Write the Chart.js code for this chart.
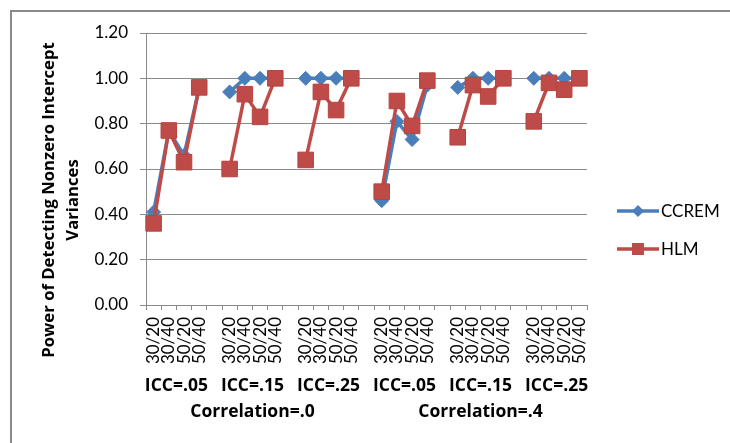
<!DOCTYPE html>
<html>
<head>
<meta charset="utf-8">
<script src="https://cdn.jsdelivr.net/npm/chart.js@4/dist/chart.umd.min.js"></script>
<style>
  html, body { margin: 0; padding: 0; background: #fff; }
  #wrap { width: 730px; height: 443px; position: relative; }
</style>
</head>
<body>
<div id="wrap"><canvas id="c" width="730" height="443"></canvas></div>
<script>
// ---- data ----
const sizeLabels = ['30/20', '30/40', '50/20', '50/40'];
const iccGroups = ['ICC=.05', 'ICC=.15', 'ICC=.25', 'ICC=.05', 'ICC=.15', 'ICC=.25'];
const correlations = ['Correlation=.0', 'Correlation=.4'];
const ccremValues = [
  0.41, 0.77, 0.66, 0.96,
  0.94, 1.00, 1.00, 1.00,
  1.00, 1.00, 1.00, 1.00,
  0.46, 0.81, 0.73, 0.97,
  0.96, 1.00, 1.00, 1.00,
  1.00, 1.00, 1.00, 1.00
];
const hlmValues = [
  0.36, 0.77, 0.63, 0.96,
  0.60, 0.93, 0.83, 1.00,
  0.64, 0.94, 0.86, 1.00,
  0.50, 0.90, 0.79, 0.99,
  0.74, 0.97, 0.92, 1.00,
  0.81, 0.98, 0.95, 1.00
];
const yTicks = [0, 0.2, 0.4, 0.6, 0.8, 1.0, 1.2];
const yTitle = ['Power of Detecting Nonzero Intercept', 'Variances'];

// ---- build category axis with blank separators between groups ----
const labels = [];
const ccremData = [];
const hlmData = [];
const groupIdx = []; // [first,last] index per group
iccGroups.forEach((g, gi) => {
  if (gi > 0) { labels.push(''); ccremData.push(null); hlmData.push(null); }
  const first = labels.length;
  sizeLabels.forEach((s, si) => {
    labels.push(s);
    ccremData.push(ccremValues[gi * 4 + si]);
    hlmData.push(hlmValues[gi * 4 + si]);
  });
  groupIdx.push([first, labels.length - 1]);
});

const BLUE = '#4A7EBB';
const RED = '#BE4B48';
const GRID = '#8a8a8a';
const FONT = 'Lato, "Open Sans", sans-serif';
const BFONT = '"Open Sans", Lato, sans-serif';

const extras = {
  id: 'extras',
  beforeDraw(chart) {
    const ctx = chart.ctx;
    ctx.save();
    ctx.strokeStyle = '#8a8a8a';
    ctx.lineWidth = 2;
    ctx.strokeRect(11, 11, 900, 900);
    ctx.restore();
  },
  afterDraw(chart) {
    const ctx = chart.ctx;
    const xs = chart.scales.x;
    const ys = chart.scales.y;
    ctx.save();
    ctx.fillStyle = '#000';
    ctx.textAlign = 'center';
    ctx.textBaseline = 'middle';
    // group labels
    ctx.font = 'bold 17.5px ' + BFONT;
    const centers = groupIdx.map(([a, b]) => (xs.getPixelForValue(a) + xs.getPixelForValue(b)) / 2);
    iccGroups.forEach((g, i) => ctx.fillText(g, centers[i], 386));
    correlations.forEach((c, i) => {
      const a = xs.getPixelForValue(groupIdx[i * 3][0]);
      const b = xs.getPixelForValue(groupIdx[i * 3 + 2][1]);
      ctx.fillText(c, (a + b) / 2, 412);
    });
    // y title
    ctx.save();
    ctx.translate(61, (ys.top + ys.bottom) / 2 + 31);
    ctx.rotate(-Math.PI / 2);
    ctx.font = 'bold 16.7px ' + BFONT;
    ctx.fillText(yTitle[0], 0, -12);
    ctx.fillText(yTitle[1], 0, 12);
    ctx.restore();
    // legend
    const items = chart.data.datasets.map(d => d);
    const legendYs = [211, 249];
    const lx0 = 617, lx1 = 659;
    items.forEach((d, i) => {
      const y = legendYs[i];
      ctx.strokeStyle = d.borderColor;
      ctx.lineWidth = 3.5;
      ctx.beginPath();
      ctx.moveTo(lx0, y); ctx.lineTo(lx1, y); ctx.stroke();
      ctx.fillStyle = d.pointBackgroundColor;
      const cx = (lx0 + lx1) / 2;
      ctx.beginPath();
      if (d.pointStyle === 'rectRot') {
        const r = 6;
        ctx.moveTo(cx, y - r); ctx.lineTo(cx + r, y); ctx.lineTo(cx, y + r); ctx.lineTo(cx - r, y); ctx.closePath();
      } else {
        const h = 6;
        ctx.rect(cx - h, y - h, 2 * h, 2 * h);
      }
      ctx.fill();
      ctx.fillStyle = '#000';
      ctx.textAlign = 'left';
      ctx.font = '17px ' + FONT;
      ctx.fillText(d.label, 661, y + 1);
    });
    ctx.restore();
  }
};

new Chart(document.getElementById('c'), {
  type: 'line',
  data: {
    labels: labels,
    datasets: [
      {
        label: 'CCREM',
        data: ccremData,
        borderColor: BLUE,
        backgroundColor: BLUE,
        pointBackgroundColor: BLUE,
        pointBorderColor: BLUE,
        pointStyle: 'rectRot',
        pointRadius: 7,
        pointBorderWidth: 1,
        borderWidth: 3.5,
        spanGaps: false,
        tension: 0,
        order: 1
      },
      {
        label: 'HLM',
        data: hlmData,
        borderColor: RED,
        backgroundColor: RED,
        pointBackgroundColor: RED,
        pointBorderColor: '#B5443F',
        pointStyle: 'rect',
        pointRadius: 11,
        pointBorderWidth: 1,
        borderWidth: 3.5,
        spanGaps: false,
        tension: 0,
        order: 0
      }
    ]
  },
  options: {
    responsive: false,
    animation: false,
    layout: { padding: { left: 0, right: 143, top: 33, bottom: 0 } },
    plugins: { legend: { display: false }, tooltip: { enabled: false } },
    scales: {
      x: {
        offset: true,
        grid: { display: true, offset: true, drawOnChartArea: false, drawTicks: true, tickLength: 5, color: GRID },
        border: { display: true, color: GRID, width: 1 },
        ticks: {
          autoSkip: false, minRotation: 90, maxRotation: 90, padding: 7,
          color: '#000', font: { family: FONT, size: 17 }
        },
        afterFit(scale) { scale.height = 138; }
      },
      y: {
        min: 0, max: 1.2,
        afterBuildTicks(scale) { scale.ticks = yTicks.map(v => ({ value: v })); },
        grid: { color: GRID, drawTicks: true, tickLength: 6 },
        border: { display: true, color: GRID, width: 1 },
        ticks: {
          padding: 12, color: '#000', font: { family: FONT, size: 17 },
          callback: v => Number(v).toFixed(2)
        },
        afterFit(scale) { scale.width = 146; }
      }
    }
  },
  plugins: [extras]
});
</script>
</body>
</html>
